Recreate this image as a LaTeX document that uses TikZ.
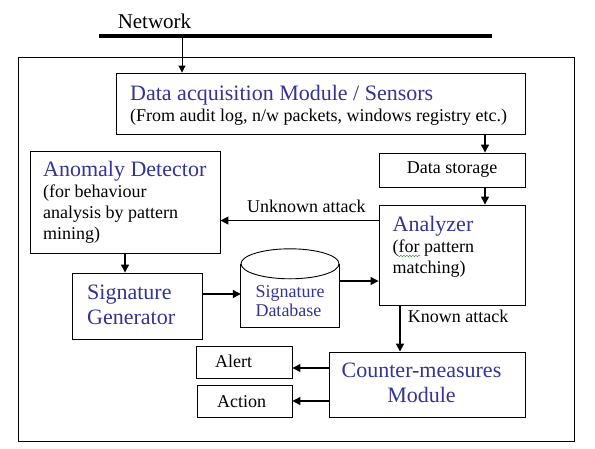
\documentclass[tikz,border=0pt]{standalone}
\usepackage{fontspec}
\setmainfont{Liberation Serif}
\usetikzlibrary{arrows.meta,decorations.pathmorphing}
\definecolor{titleblue}{RGB}{51,51,153}
\newcommand{\titlefont}{\fontsize{22}{25}\selectfont\color{titleblue}}
\newcommand{\subfont}{\fontsize{18}{21}\selectfont}

\begin{document}
\begin{tikzpicture}[x=1pt, y=-1pt,
        box/.style={draw, line width=0.9pt, inner sep=0pt},
        txt/.style={inner sep=0pt, align=left, font=\subfont},
        arr/.style={line width=1.2pt, -{Triangle[length=8pt, width=8pt]}}]
    \useasboundingbox (0,0) rectangle (595,448);

    % network bus
    \node[txt, font=\fontsize{21}{24}\selectfont, anchor=base] (net) at (154.5,28) {Network};
    \coordinate (bus-l) at (99,36);
    \coordinate (bus-r) at (492,36);
    \coordinate (tap) at (182,36);
    \draw[line width=3.5pt] (bus-l) -- (bus-r);

    \node[box, line width=1pt, minimum width=556pt, minimum height=384pt] (ids) at (296,249) {};

    % boxes
    \node[box, minimum width=409pt, minimum height=61pt] (daq) at (320.5,103.5) {};
    \node[txt, anchor=west] (daq-txt) at (130,105) {{\titlefont Data acquisition Module / Sensors}\\(From audit log, n/w packets, windows registry etc.)};

    \node[box, minimum width=146pt, minimum height=34pt, font=\subfont] (store) at (452,170) {Data storage};

    \node[box, minimum width=146pt, minimum height=100pt] (ana) at (452,255) {};
    \node[txt, anchor=west] (ana-txt) at (392.5,246.5) {{\titlefont Analyzer}\\(for pattern\\matching)};
    \draw[green!60!black, line width=0.4pt, decorate, decoration={snake, amplitude=0.7pt, segment length=3pt}] (397,256) -- (420,256);

    \node[box, minimum width=190pt, minimum height=102pt] (anom) at (125,202) {};
    \node[txt, anchor=west] (anom-txt) at (43,202) {{\titlefont Anomaly Detector}\\(for behaviour\\analysis by pattern\\mining)};

    \node[box, minimum width=130pt, minimum height=66pt] (gen) at (137,306) {};
    \node[txt, anchor=west, font=\titlefont] (gen-txt) at (87,305) {Signature\\Generator};

    % database drum
    \node[minimum width=98pt, minimum height=78pt, inner sep=0pt] (db) at (290,288) {};
    \draw[line width=0.9pt] ([yshift=-15pt]db.north west) -- (db.south west) -- (db.south east) -- ([yshift=-15pt]db.north east);
    \draw[line width=0.9pt] ([yshift=-15pt]db.north) ellipse [x radius=49pt, y radius=15pt];
    \node[txt, font=\fontsize{18}{19}\selectfont\color{titleblue}] (db-txt) at (290,301.5) {Signature\\Database};

    \node[box, minimum width=196pt, minimum height=65pt] (cm) at (427,384.5) {};
    \node[txt, align=center, font=\titlefont] (cm-txt) at (421.5,383) {Counter-measures\\Module};

    \node[box, minimum width=96pt, minimum height=32pt] (alert) at (244,362) {};
    \node[txt, anchor=base west] (alert-txt) at (215,367) {Alert};
    \node[box, minimum width=95pt, minimum height=32pt] (action) at (244.5,401) {};
    \node[txt, anchor=base west] (action-txt) at (217,407) {Action};

    % connectors
    \draw[line width=1pt, -{Triangle[length=7pt, width=7pt]}] (tap) -- (tap |- daq.north);
    \coordinate (daq-out) at ([xshift=164.5pt]daq.south);
    \draw[arr] (daq-out) -- (daq-out |- store.north);
    \coordinate (store-out) at ([xshift=33pt]store.south);
    \draw[arr] (store-out) -- (store-out |- ana.north);
    \coordinate (unk) at ([yshift=-16pt]ana.north west);
    \draw[arr] (unk) -- (unk -| anom.east)
        node[txt, pos=0.456, anchor=base, yshift=8pt] (unk-lbl) {Unknown attack};
    \draw[arr] (anom.south) -- (anom.south |- gen.north);
    \coordinate (gen-out) at ([yshift=12pt]gen.east);
    \draw[arr] (gen-out) -- (gen-out -| db.west);
    \coordinate (db-out) at ([yshift=7pt]db.east);
    \draw[arr] (db-out) -- (db-out -| ana.west);
    \coordinate (known) at ([xshift=-52pt]ana.south);
    \draw[arr, line width=1.8pt] (known) -- (known |- cm.north)
        node[txt, pos=0.38, anchor=base west, xshift=7pt] (known-lbl) {Known attack};
    \coordinate (to-alert) at ([yshift=16.5pt]cm.west);
    \draw[arr] (to-alert) -- (to-alert -| alert.east);
    \coordinate (to-action) at ([yshift=-16.5pt]cm.west);
    \draw[arr] (to-action) -- (to-action -| action.east);
\end{tikzpicture}
\end{document}
